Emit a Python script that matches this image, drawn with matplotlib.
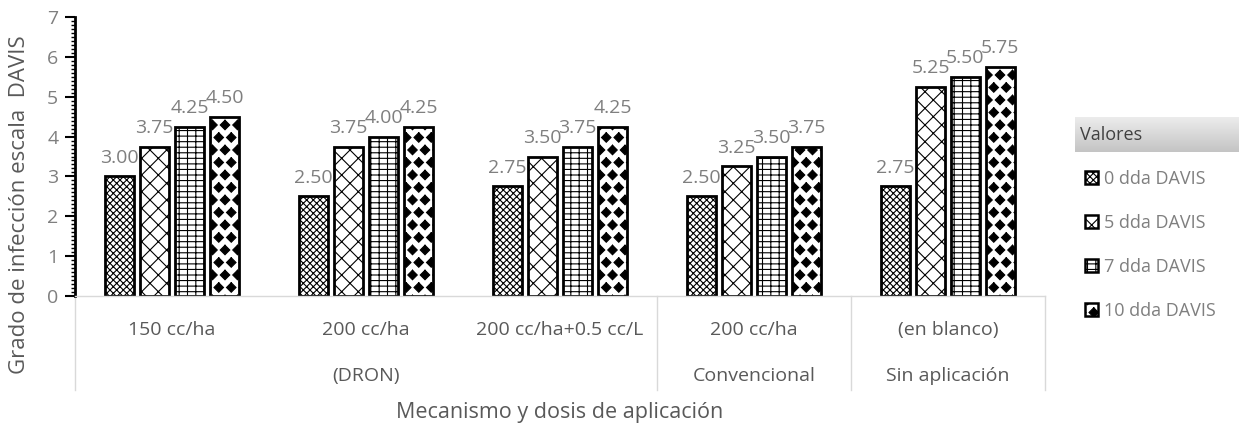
import matplotlib as mpl
mpl.use('Agg')
import matplotlib.pyplot as plt
import matplotlib.hatch as mhatch
from matplotlib.path import Path
from matplotlib.patches import Patch
from matplotlib.lines import Line2D
from matplotlib.ticker import MultipleLocator
import numpy as np

# data
dosis = ['150 cc/ha', '200 cc/ha', '200 cc/ha+0.5 cc/L', '200 cc/ha', '(en blanco)']
mecanismos = ['(DRON)', 'Convencional', 'Sin aplicación']
mecanismo_desde = [0, 3, 4]
mecanismo_hasta = [2, 3, 4]
series = ['0 dda DAVIS', '5 dda DAVIS', '7 dda DAVIS', '10 dda DAVIS']
dda_0 = [3.00, 2.50, 2.75, 2.50, 2.75]
dda_5 = [3.75, 3.75, 3.50, 3.25, 5.25]
dda_7 = [4.25, 4.00, 3.75, 3.50, 5.50]
dda_10 = [4.50, 4.25, 4.25, 3.75, 5.75]


# filled diamonds instead of stars for the '*' hatch
class Diamonds(mhatch.Shapes):
    size = 0.38
    filled = True

    def __init__(self, hatch, density):
        # row count has to stay even for the Shapes layout
        self.num_rows = 2 * int(round(hatch.count('*') * density * 0.7))
        path = Path.unit_regular_polygon(4)
        self.shape_vertices = path.vertices
        self.shape_codes = np.full(len(self.shape_vertices), Path.LINETO, dtype=Path.code_type)
        self.shape_codes[0] = Path.MOVETO
        super().__init__(hatch, density)


mhatch._hatch_types = [Diamonds if t is mhatch.Stars else t for t in mhatch._hatch_types]

plt.rcParams['font.family'] = ['Open Sans', 'DejaVu Sans']
plt.rcParams['hatch.linewidth'] = 0.8

hatches = ['xxxxx', 'xx', '---||', '*']
gray = '#7f7f7f'
dark = '#595959'

fig = plt.figure(figsize=(12.39, 4.25), dpi=100)
ax = fig.add_axes([75 / 1239, 1 - 296 / 425, 970 / 1239, 279 / 425])

x = np.arange(len(dosis))
width = 0.15
step = 0.18
valores = [dda_0, dda_5, dda_7, dda_10]
for i, vals in enumerate(valores):
    bars = ax.bar(x + (i - 1.5) * step, vals, width, facecolor='white', edgecolor='black',
                  linewidth=2, hatch=hatches[i], label=series[i])
    ax.bar_label(bars, labels=['%.2f' % v for v in vals], padding=7, color=gray, fontsize=14)

ax.set_xlim(-0.5, len(dosis) - 0.5)
ax.set_ylim(0, 7)
ax.yaxis.set_major_locator(MultipleLocator(1))
ax.yaxis.set_minor_locator(MultipleLocator(0.1))
ax.tick_params(axis='y', which='major', length=7, width=1.5, color='black', labelcolor=gray,
               labelsize=14, pad=5)
ax.tick_params(axis='y', which='minor', length=3, width=1, color='black')
ax.set_xticks([])
for s in ['top', 'right']:
    ax.spines[s].set_visible(False)
ax.spines['left'].set_linewidth(2)
ax.spines['left'].set_color('black')
ax.spines['bottom'].set_color('#d9d9d9')
ax.spines['bottom'].set_linewidth(1)

# multi-level category axis
trans = ax.get_xaxis_transform()
for d, name in zip(x, dosis):
    ax.text(d, -0.122, name, transform=trans, ha='center', va='center', color=dark, fontsize=14)
for a, b, name in zip(mecanismo_desde, mecanismo_hasta, mecanismos):
    ax.text((a + b) / 2, -0.287, name, transform=trans, ha='center', va='center', color=dark,
            fontsize=14)
for edge in [-0.5] + [b + 0.5 for b in mecanismo_hasta]:
    ax.add_line(Line2D([edge, edge], [0, -0.337], transform=trans, color='#d9d9d9', lw=1,
                       clip_on=False))

ax.text(0.5, -0.419, 'Mecanismo y dosis de aplicación', transform=ax.transAxes, ha='center',
        va='center', color=dark, fontsize=15.5)
fig.text(20 / 1239, 1 - 205 / 425, 'Grado de infección escala  DAVIS', rotation=90,
         ha='center', va='center', color=dark, fontsize=16)

# legend title box with gradient
tax = fig.add_axes([1075 / 1239, 1 - 152 / 425, 164 / 1239, 35 / 425])
grad = np.linspace(0, 1, 50).reshape(-1, 1)
tax.imshow(grad, aspect='auto', cmap=mpl.colors.LinearSegmentedColormap.from_list(
    'g', ['#ececec', '#c4c4c4']), extent=[0, 1, 0, 1])
tax.set_axis_off()
tax.text(0.03, 0.5, 'Valores', ha='left', va='center', color='#404040', fontsize=13)

handles = [Patch(facecolor='white', edgecolor='black', linewidth=1.8, hatch=h) for h in hatches]
fig.legend(handles, series, loc='upper left', bbox_to_anchor=(1072 / 1239, 1 - 157 / 425),
           frameon=False, fontsize=13, labelcolor=gray, handlelength=0.75, handleheight=0.75,
           handletextpad=0.35, labelspacing=1.45, borderpad=0.2)

fig.savefig('out.png', dpi=100)
